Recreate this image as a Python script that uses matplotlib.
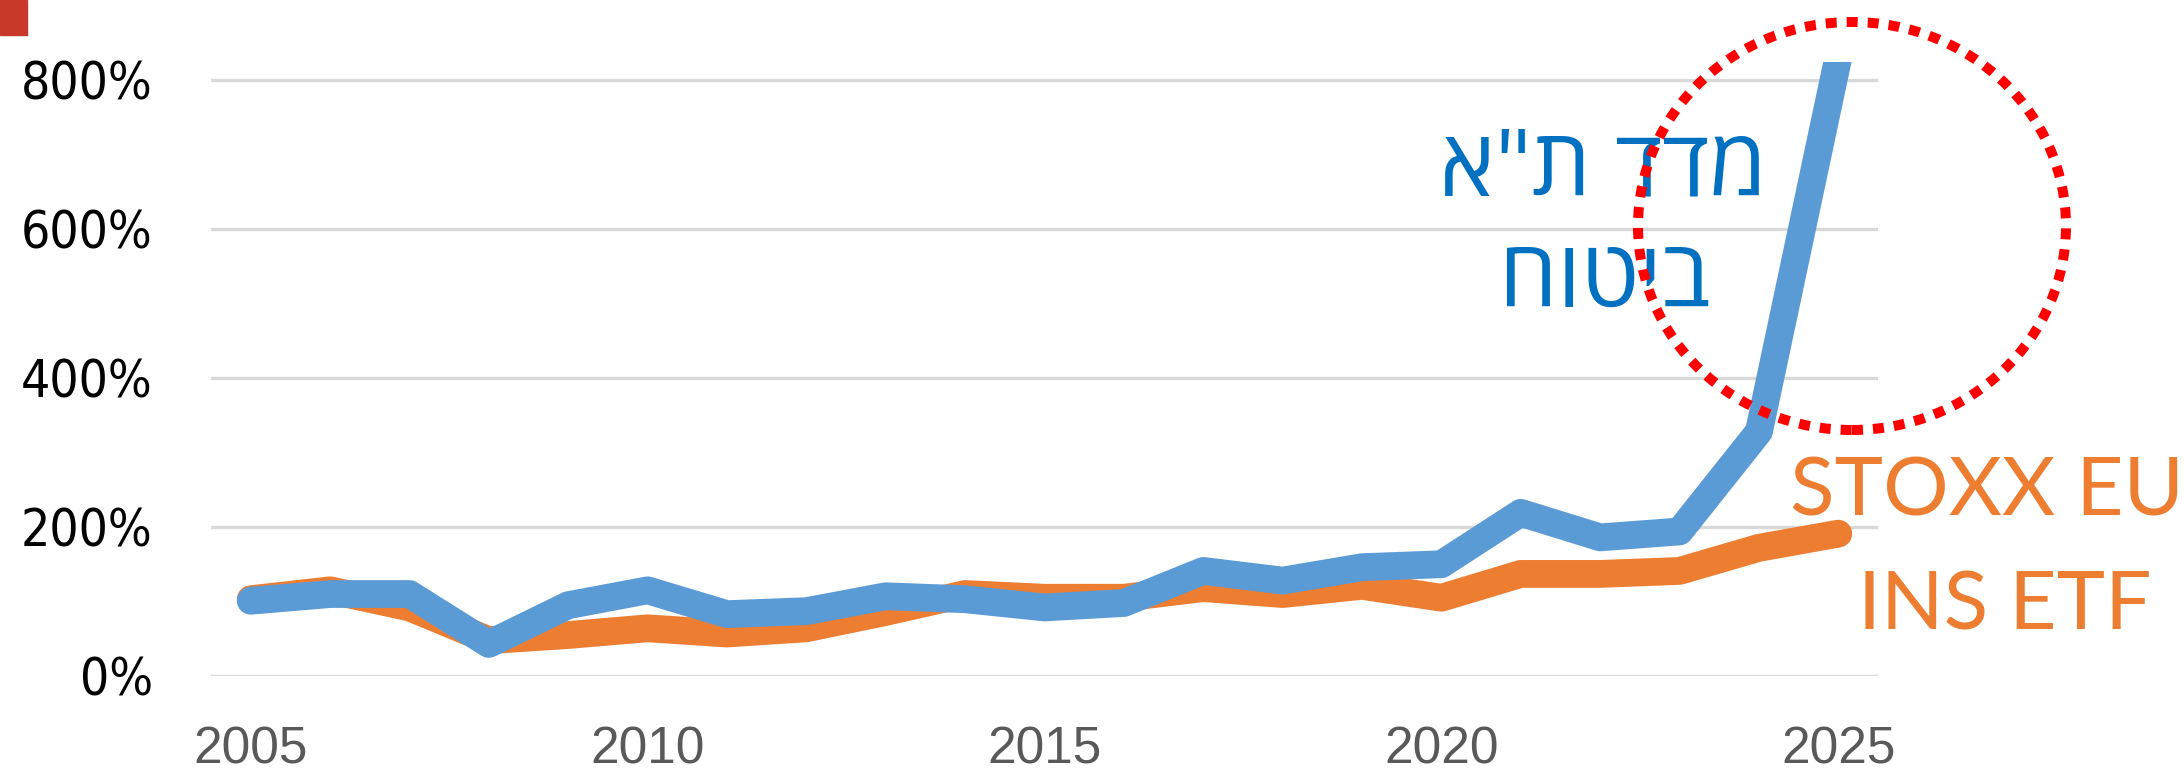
import matplotlib
matplotlib.use("Agg")
import matplotlib.pyplot as plt
import matplotlib.patches as mpatches

years = list(range(2005, 2026))
ta_insurance = [101, 110, 110, 43, 95, 115, 83, 87, 107, 103, 92, 98,
                141, 128, 146, 150, 219, 186, 194, 328, 830]
stoxx_ins = [103, 115, 92, 48, 55, 64, 57, 64, 86, 110, 105, 105,
             118, 110, 121, 105, 137, 137, 141, 172, 191]
y_ticks = [0, 200, 400, 600, 800]
y_labels = ["0%", "200%", "400%", "600%", "800%"]
x_ticks = [2005, 2010, 2015, 2020, 2025]
x_labels = ["2005", "2010", "2015", "2020", "2025"]

# hebrew is drawn left to right by matplotlib, so the strings are reversed
heb_line1 = "מדד ת\"א"[::-1]
heb_line2 = "ביטוח"[::-1]

W, H = 2184, 778
fig = plt.figure(figsize=(W / 100, H / 100), dpi=100)
ax = fig.add_axes([211 / W, 1 - 676 / H, (1878 - 211) / W, (676 - 62) / H])

blue = "#5B9BD5"
orange = "#ED7D31"

ax.plot(years, stoxx_ins, color=orange, lw=20, solid_capstyle="round",
        solid_joinstyle="round", zorder=3)
ax.plot(years, ta_insurance, color=blue, lw=20, solid_capstyle="round",
        solid_joinstyle="round", zorder=4)

ax.set_xlim(2004.5, 2025.5)
ax.set_ylim(0, 824)
ax.set_yticks(y_ticks)
ax.set_yticklabels(y_labels, fontfamily="DejaVu Sans", fontstretch="condensed",
                   fontsize=37, color="black")
ax.set_xticks(x_ticks)
ax.set_xticklabels(x_labels, fontfamily="Liberation Sans", fontsize=37,
                   color="#595959")
ax.tick_params(axis="y", length=0, pad=42)
ax.tick_params(axis="x", length=0, pad=36)
ax.grid(axis="y", color="#D9D9D9", lw=2.4)
ax.set_axisbelow(True)
for s in ax.spines.values():
    s.set_visible(False)

# annotations
heb_font = ["Open Sans", "DejaVu Sans"]
fig.text(1603 / W, 1 - 195 / H, heb_line1, color="#0070C0", fontsize=67,
         family=heb_font, ha="center", va="baseline")
fig.text(1605 / W, 1 - 307 / H, heb_line2, color="#0070C0", fontsize=67,
         family=heb_font, ha="center", va="baseline")
lat_font = ["Lato", "DejaVu Sans"]
fig.text(1987 / W, 1 - 515 / H, "STOXX EU", color=orange, fontsize=59,
         family=lat_font, ha="center", va="baseline")
fig.text(2005 / W, 1 - 630 / H, "INS ETF", color=orange, fontsize=59,
         family=lat_font, ha="center", va="baseline")

circle = mpatches.Ellipse((1852 / W, 1 - 226 / H), 428 / W, 408 / H,
                          transform=fig.transFigure, fill=False, edgecolor="#FF0000",
                          lw=7.2, linestyle=(0, (1.1, 1.0)), zorder=10)
fig.patches.append(circle)

corner = mpatches.Rectangle((0, 1 - 35 / H), 27 / W, 35 / H, transform=fig.transFigure,
                            color="#C8382B")
fig.patches.append(corner)

fig.savefig("out.png", dpi=100)
